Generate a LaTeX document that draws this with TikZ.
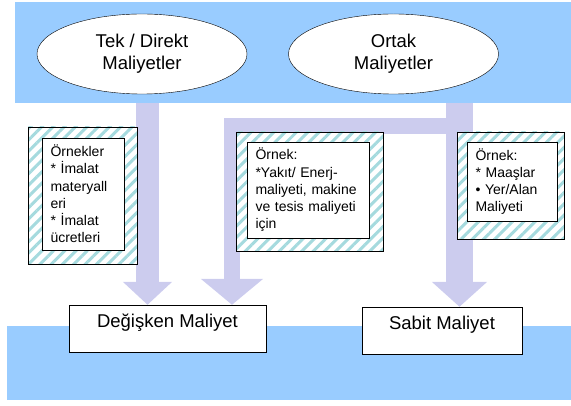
\documentclass[tikz,border=0pt]{standalone}
\usepackage{fontspec}
\setmainfont{Liberation Sans}
\usetikzlibrary{shapes.geometric,arrows.meta,patterns.meta}
\definecolor{bandblue}{RGB}{153,204,255}
\definecolor{arrowlilac}{RGB}{204,204,238}
\definecolor{stripe}{RGB}{165,218,222}
\begin{document}
\begin{tikzpicture}[x=1pt, y=-1pt,
    band/.style={fill=bandblue, inner sep=0pt},
    costtype/.style={ellipse, draw, fill=white, minimum width=210pt, minimum height=80pt,
        align=center, font=\fontsize{18.5}{22}\selectfont},
    hatchbox/.style={draw, preaction={fill=white}, pattern={Lines[angle=45,distance=8pt,line width=3pt]},
        pattern color=stripe, inner sep=0pt},
    notebox/.style={draw, fill=white, align=left, inner xsep=8.5pt, inner ysep=0pt,
        font=\fontsize{14}{17.2}\selectfont},
    costbox/.style={draw, fill=white, inner ysep=9pt, text height=13.5pt, text depth=15.5pt,
        font=\fontsize{18.5}{22}\selectfont},
    bigarrow/.style={draw=arrowlilac, line join=miter}]
    \useasboundingbox (0,0) rectangle (571,406);
    % bands
    \node[band, minimum width=556pt, minimum height=101pt] (topband) at (293,52.5) {};
    \node[band, minimum width=564pt, minimum height=74pt] (botband) at (289,363) {};
    \node[costtype] (tek) at (142,54) {Tek / Direkt\\Maliyetler};
    \node[costtype] (ortak) at (393.5,54) {Ortak\\Maliyetler};
    % result boxes
    \node[costbox, minimum width=197pt] (deg) at (167.5,328.5) {Değişken Maliyet};
    \node[costbox, minimum width=160pt] (sabit) at (442,330.5) {Sabit Maliyet};
    % arrows
    \coordinate (d1) at (147.5,103);
    \coordinate (d2) at (232,126);
    \coordinate (d3) at (459.5,103);
    \draw[bigarrow, line width=23pt, -{Triangle[length=23pt,width=48pt]}] (d1) -- (d1 |- deg.north);
    \draw[bigarrow, line width=27pt, -{Triangle[length=25pt,width=54pt]}] (d3) -- (d3 |- sabit.north);
    \draw[bigarrow, line width=16pt, -{Triangle[length=26pt,width=61pt]}] (d3 |- d2) -- (d2) -- (d2 |- deg.north);
    % examples
    \node[hatchbox, minimum width=109pt, minimum height=137pt] (h1) at (82.5,195.5) {};
    \node[notebox, minimum width=82pt, minimum height=112pt, text width=65pt] (n1) at (83,194)
        {Örnekler\\{*} İmalat\\materyall\\eri\\{*} İmalat\\ücretleri};
    \node[hatchbox, minimum width=147pt, minimum height=119pt] (h2) at (309.5,191.5) {};
    \node[notebox, minimum width=122pt, minimum height=96pt, text width=105pt] (n2) at (308,190)
        {Örnek:\\{*}Yakıt/ Enerj-\\maliyeti, makine\\ve tesis maliyeti\\için};
    \node[hatchbox, minimum width=107pt, minimum height=107pt] (h3) at (510.5,185.5) {};
    \node[notebox, minimum width=90pt, minimum height=79pt, text width=73pt] (n3) at (512,181.5)
        {Örnek:\\{*} Maaşlar\\• Yer/Alan\\Maliyeti};
\end{tikzpicture}
\end{document}
